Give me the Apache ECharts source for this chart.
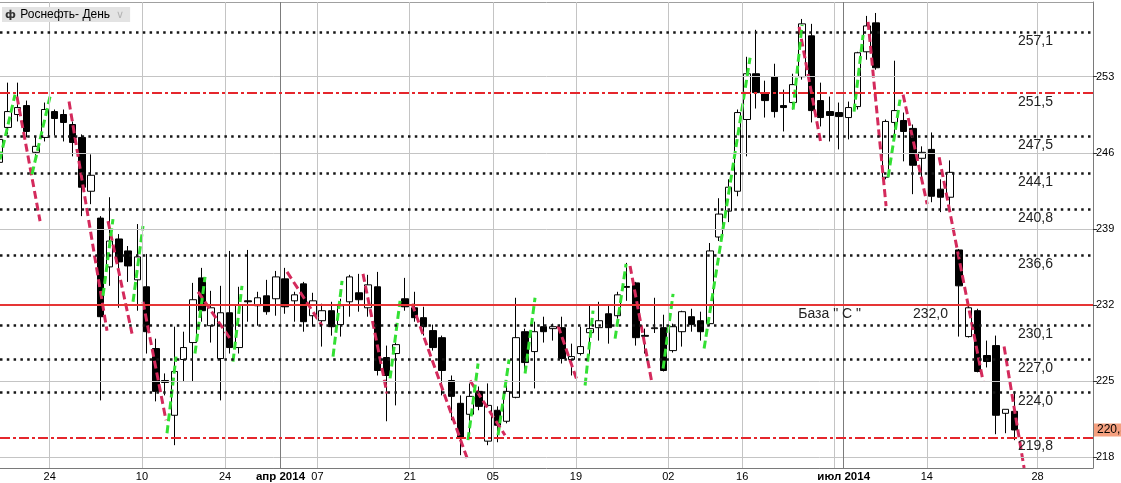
<!DOCTYPE html>
<html><head><meta charset="utf-8">
<script src="https://cdn.jsdelivr.net/npm/echarts@6/dist/echarts.min.js"></script>
<style>html,body{margin:0;padding:0;background:#fff}#c{width:1121px;height:483px}</style>
</head><body><div id="c"></div>
<script>
// trading days (first visible one partly cut at the left edge)
const dates = [
'2014-02-14',
'2014-02-17','2014-02-18','2014-02-19','2014-02-20','2014-02-21',
'2014-02-24','2014-02-25','2014-02-26','2014-02-27','2014-02-28',
'2014-03-03','2014-03-04','2014-03-05','2014-03-06','2014-03-07',
'2014-03-11','2014-03-12','2014-03-13','2014-03-14',
'2014-03-17','2014-03-18','2014-03-19','2014-03-20','2014-03-21',
'2014-03-24','2014-03-25','2014-03-26','2014-03-27','2014-03-28',
'2014-03-31','2014-04-01','2014-04-02','2014-04-03','2014-04-04',
'2014-04-07','2014-04-08','2014-04-09','2014-04-10','2014-04-11',
'2014-04-14','2014-04-15','2014-04-16','2014-04-17','2014-04-18',
'2014-04-21','2014-04-22','2014-04-23','2014-04-24','2014-04-25',
'2014-04-28','2014-04-29','2014-04-30','2014-05-02',
'2014-05-05','2014-05-06','2014-05-07','2014-05-08',
'2014-05-12','2014-05-13','2014-05-14','2014-05-15','2014-05-16',
'2014-05-19','2014-05-20','2014-05-21','2014-05-22','2014-05-23',
'2014-05-26','2014-05-27','2014-05-28','2014-05-29','2014-05-30',
'2014-06-02','2014-06-03','2014-06-04','2014-06-05','2014-06-06',
'2014-06-09','2014-06-10','2014-06-11',
'2014-06-16','2014-06-17','2014-06-18','2014-06-19','2014-06-20',
'2014-06-23','2014-06-24','2014-06-25','2014-06-26','2014-06-27',
'2014-06-30','2014-07-01','2014-07-02','2014-07-03','2014-07-04',
'2014-07-07','2014-07-08','2014-07-09','2014-07-10','2014-07-11',
'2014-07-14','2014-07-15','2014-07-16','2014-07-17','2014-07-18',
'2014-07-21','2014-07-22','2014-07-23','2014-07-24','2014-07-25'
];
const futureSlots = ['2014-07-26','2014-07-27','2014-07-28','2014-07-29','2014-07-30','2014-07-31','2014-08-01','2014-08-02'];

const opens = [245.12,
248.33,249.52,250.34,246.04,247.41,
249.79,249.52,248.60,247.41,242.46,
239.99,235.50,238.07,236.97,234.31,
233.67,227.99,225.05,221.85,
226.98,228.54,234.49,230.09,227.07,
231.28,228.08,232.38,231.93,232.84,
232.57,234.40,232.38,233.94,231.01,
230.55,231.47,230.19,232.29,233.12,
231.74,233.67,227.16,227.53,232.57,
231.74,230.83,229.64,228.99,225.05,
222.95,221.94,224.05,219.47,
222.31,221.30,223.50,229.54,
227.71,230.00,229.82,229.91,226.98,
227.53,229.45,229.91,231.19,231.01,
233.70,234.03,229.20,229.82,229.91,
227.80,229.54,230.92,230.55,230.28,
238.25,240.63,242.46,
249.06,253.27,251.44,253.00,250.34,
250.62,253.00,256.76,250.80,249.79,
249.70,249.24,250.25,255.29,257.95,
243.75,248.79,248.97,248.24,245.49,
246.31,242.65,241.91,237.06,229.09,
231.47,227.35,228.26,222.03,222.21];
const closes = [247.23,
249.79,250.16,247.96,246.59,249.98,
249.15,248.79,246.95,242.83,243.93,
230.92,237.88,235.96,235.59,236.42,
229.54,224.05,224.87,225.88,
228.08,232.48,231.47,231.74,231.28,
228.08,232.02,232.29,232.66,231.38,
234.58,231.83,232.93,230.46,232.38,
231.47,230.00,231.93,234.58,232.48,
233.85,225.97,225.51,228.35,231.83,
230.83,230.00,228.08,225.97,223.59,
219.83,223.59,222.67,222.76,
220.93,224.05,228.99,226.70,
229.54,229.54,230.00,227.07,227.25,
228.17,229.82,230.55,229.91,232.93,
233.62,228.99,229.12,229.90,225.97,
230.00,231.38,230.19,229.54,236.97,
240.36,242.83,249.70,
253.27,251.53,250.80,249.79,250.16,
252.27,257.86,249.88,249.24,249.43,
249.33,250.16,255.20,257.67,253.82,
248.88,249.88,247.96,244.85,246.04,
242.00,241.91,244.20,233.76,231.74,
225.88,226.80,221.85,222.40,220.50];
const lows = [244.94,
247.69,248.88,247.41,245.12,247.04,
247.59,247.04,245.67,240.17,241.27,
223.22,233.76,231.74,234.12,231.47,
227.53,223.13,223.68,219.10,
224.96,224.96,230.46,228.54,223.22,
227.53,227.53,230.46,230.09,231.10,
231.01,231.19,230.46,229.54,230.00,
228.17,229.18,229.09,230.92,231.38,
230.92,225.51,221.30,222.76,231.47,
230.46,229.18,227.80,223.68,221.39,
218.18,219.74,222.31,219.10,
219.37,221.11,223.41,225.88,
224.32,228.54,228.72,226.61,225.51,
227.35,227.35,228.72,228.44,230.74,
232.38,228.26,227.53,229.42,225.88,
227.62,228.17,229.54,228.72,230.09,
237.88,239.62,242.00,
245.67,250.07,249.24,249.24,247.96,
249.98,252.73,248.79,248.42,247.04,
246.31,247.23,249.98,254.56,253.64,
243.56,247.69,245.21,242.19,243.56,
241.45,240.54,240.54,229.09,229.00,
225.80,226.25,220.11,220.20,219.56];
const highs = [247.41,
252.45,252.45,250.80,247.50,250.62,
249.98,249.98,248.88,247.69,245.85,
240.17,241.91,238.52,237.42,239.44,
236.69,228.90,225.70,230.00,
229.54,234.03,235.41,233.30,233.76,
236.97,233.67,237.06,233.21,234.31,
235.13,235.41,233.21,234.12,233.12,
232.11,232.29,232.57,234.77,234.86,
234.77,235.04,228.26,228.54,234.49,
233.21,231.83,230.19,229.18,225.51,
223.68,224.78,224.50,224.78,
222.67,224.60,232.66,229.82,
230.46,230.92,230.28,230.92,228.44,
230.00,231.93,232.29,231.93,233.21,
235.87,234.12,229.82,232.66,231.10,
230.28,231.47,231.65,231.38,237.70,
241.82,243.56,249.98,
254.83,257.31,252.63,254.19,251.81,
253.27,258.31,257.86,252.45,251.17,
250.62,250.71,255.29,258.59,258.86,
249.06,254.47,249.70,248.60,246.59,
247.87,243.56,245.30,237.15,232.11,
231.65,228.72,229.18,222.40,224.05];

const tickDates = ['2014-02-24','2014-03-11','2014-03-24','2014-04-01','2014-04-07','2014-04-21','2014-05-05','2014-05-19','2014-06-02','2014-06-16','2014-07-01','2014-07-14','2014-07-28'];
const tickTexts = ['24','10','24','апр 2014','07','21','05','19','02','16','июл 2014','14','28'];
const gridDates = ['2014-02-24','2014-03-11','2014-03-24','2014-04-07','2014-04-21','2014-05-05','2014-05-19','2014-06-02','2014-06-16','2014-06-30','2014-07-14','2014-07-28'];
const monthDates = ['2014-04-01','2014-07-01'];
const yTicks = [218,225,232,239,246,253];

const dottedLevels = [257.1,247.5,244.1,240.8,236.6,230.1,227.0,224.0];
const dashDotLevels = [251.5,219.8];
const baseLevel = 232.0;
const baseName = 'База " С "';

// trend segments: [[slot, price],[slot, price]] (slot 0 = 2014-02-17)
const redSegments = [
[[0.96,251.17],[3.46,239.71]],
[[6.6,250.71],[10.71,229.63]],
[[10.82,239.71],[13.42,229.36]],
[[14.61,232.29],[17.1,221.39]],
[[20.57,233.21],[24.04,228.9]],
[[30.21,235.04],[34.0,230.09]],
[[38.44,234.86],[41.04,223.86]],
[[43.75,232.11],[49.71,217.91]],
[[50.03,225.05],[53.82,220.01]],
[[59.56,230.09],[61.62,225.05]],
[[67.36,235.59],[69.74,224.78]],
[[85.67,257.58],[88.05,246.77]],
[[93.14,258.04],[95.09,241.09]],
[[96.93,251.35],[99.54,241.27]],
[[100.84,245.58],[105.6,224.96]],
[[107.87,228.17],[110.04,216.99]]
];
const greenSegments = [
[[-0.88,245.39],[0.75,251.35]],
[[2.59,244.02],[4.54,251.17]],
[[10.28,232.84],[11.36,239.9]],
[[13.53,232.29],[14.61,239.26]],
[[17.21,220.2],[18.19,227.25]],
[[20.24,227.53],[21.33,234.58]],
[[24.36,226.79],[25.33,233.76]],
[[35.19,227.25],[36.17,234.22]],
[[41.37,225.24],[42.45,232.38]],
[[49.81,219.56],[50.9,226.61]],
[[53.06,220.01],[54.26,226.98]],
[[55.99,225.69],[57.07,232.66]],
[[62.49,224.59],[63.35,231.47]],
[[65.74,228.9],[66.93,235.77]],
[[70.94,226.15],[72.02,233.02]],
[[75.38,227.99],[80.36,254.74]],
[[85.02,249.98],[85.99,257.76]],
[[91.62,249.79],[92.6,256.85]],
[[95.31,243.75],[96.6,250.89]]
];

// slot index of a date on the time line (slot 0 = 2014-02-17)
const allSlots = dates.concat(futureSlots);
const slotOf = d => allSlots.indexOf(d) - 1;
const FIRST_SLOT = -0.8774, LAST_SLOT = 117.5;

const tickMap = {};
const tickValues = tickDates.map((d, i) => { const v = slotOf(d) - 0.5; tickMap[v.toFixed(1)] = tickTexts[i]; return v; });
const fmt = v => v.toFixed(1).replace('.', ',');
const candleData = opens.map((o, i) => [slotOf(dates[i]), o, closes[i], lows[i], highs[i]]);
const lastClose = closes[closes.length - 1];

const FONT = 'Liberation Sans';
const gridColor = '#c4c4c4';
const dotStyle = { color: '#161616', width: 2.5, type: [2.5, 4.3], cap: 'butt' };
const lvlLabel = (text, dx) => ({ show: true, position: 'insideEndBottom', distance: [dx, 2], formatter: text, color: '#222', fontSize: 14, fontFamily: FONT });
const redLine = { color: '#e5262c', width: 2, type: [10, 3, 3, 3] };
const baseLine = { color: '#e63535', width: 2, type: 'solid' };

const gridData = [];
yTicks.forEach(v => gridData.push({ yAxis: v }));
gridDates.forEach(d => gridData.push({ xAxis: slotOf(d) - 0.5 }));
monthDates.forEach(d => gridData.push({ xAxis: slotOf(d) - 0.5, lineStyle: { color: '#7c7c7c', width: 1, type: 'solid' } }));

const levelData = [];
dottedLevels.forEach(v => levelData.push({ yAxis: v, lineStyle: dotStyle, label: lvlLabel(fmt(v), 40) }));
dashDotLevels.forEach(v => levelData.push({ yAxis: v, lineStyle: redLine, label: lvlLabel(fmt(v), 40) }));
levelData.push({ yAxis: baseLevel, lineStyle: baseLine, label: lvlLabel(fmt(baseLevel), 145) });
levelData.push({ yAxis: baseLevel, lineStyle: baseLine, label: lvlLabel(baseName, 232) });
levelData.push({ yAxis: lastClose, lineStyle: { color: 'rgba(0,0,0,0)', width: 1, opacity: 1 },
  label: { show: true, position: 'end', distance: 1, formatter: fmt(lastClose), backgroundColor: '#f5a07f', padding: [1, 3, 0, 3], color: '#000', opacity: 1, fontSize: 12, fontFamily: FONT } });

const chart = echarts.init(document.getElementById('c'), null, { renderer: 'canvas' });
chart.setOption({
  animation: false,
  backgroundColor: '#fff',
  title: {
    text: '{ic|ф} Роснефть- День{ch|∨}', left: 2, top: 7, padding: [1, 6, 0, 3], backgroundColor: '#e3e3e3',
    textStyle: { fontSize: 12, fontWeight: 'normal', color: '#000', fontFamily: FONT, lineHeight: 14,
      rich: { ic: { fontSize: 11, fontWeight: 'bold', color: '#333', fontFamily: 'DejaVu Sans', lineHeight: 14, padding: [0, 1, 0, 0] },
              ch: { fontSize: 11, color: '#b4b4b4', fontFamily: 'DejaVu Sans', lineHeight: 14, padding: [0, 0, 0, 6] } } }
  },
  grid: { left: 0, right: 28, top: 2, bottom: 13 },
  xAxis: [
    { type: 'value', min: FIRST_SLOT, max: LAST_SLOT, position: 'bottom',
      axisLine: { show: true, onZero: false, lineStyle: { color: '#7a7a7a', width: 1 } },
      axisTick: { show: false },
      axisLabel: { customValues: tickValues,
        formatter: v => { const t = tickMap[Number(v).toFixed(1)] || ''; return t.indexOf('2014') >= 0 ? '{b|' + t + '}' : t; },
        margin: 3, fontSize: 11, color: '#000', fontFamily: FONT,
        rich: { b: { fontWeight: 'bold', fontSize: 11.5, fontFamily: FONT, color: '#000' } } },
      splitLine: { show: false } },
    { type: 'value', min: FIRST_SLOT, max: LAST_SLOT, position: 'top',
      axisLine: { show: true, onZero: false, lineStyle: { color: '#a0a0a0', width: 1 } },
      axisTick: { show: false }, axisLabel: { show: false }, splitLine: { show: false } }
  ],
  yAxis: { type: 'value', position: 'right', min: 217, max: 259.87,
    axisLine: { show: true, onZero: false, lineStyle: { color: '#7a7a7a' } },
    axisTick: { show: true, length: 4, customValues: yTicks, lineStyle: { color: '#333' } },
    axisLabel: { customValues: yTicks, margin: 3, fontSize: 11, color: '#000', fontFamily: FONT },
    splitLine: { show: false } },
  series: [
    { name: 'grid', type: 'line', data: [], xAxisIndex: 0, yAxisIndex: 0, z: 1, silent: true,
      markLine: { silent: true, symbol: 'none', animation: false, label: { show: false },
        lineStyle: { color: gridColor, width: 1, type: 'solid' }, data: gridData } },
    { name: 'Роснефть', type: 'candlestick', xAxisIndex: 0, yAxisIndex: 0, data: candleData, barWidth: 7, z: 2,
      encode: { x: 0, y: [1, 2, 3, 4] },
      itemStyle: { color: '#ffffff', color0: '#000000', borderColor: '#000000', borderColor0: '#000000', borderWidth: 1 } },
    { name: 'levels', type: 'line', data: [], xAxisIndex: 0, yAxisIndex: 0, z: 3, silent: true,
      markLine: { silent: true, symbol: 'none', animation: false, data: levelData } },
    { name: 'down', type: 'lines', coordinateSystem: 'cartesian2d', xAxisIndex: 0, yAxisIndex: 0, z: 4, silent: true,
      data: redSegments.map(s => ({ coords: s })),
      lineStyle: { color: '#d42a5c', width: 3, type: [8, 4], opacity: 1, curveness: 0 } },
    { name: 'up', type: 'lines', coordinateSystem: 'cartesian2d', xAxisIndex: 0, yAxisIndex: 0, z: 4, silent: true,
      data: greenSegments.map(s => ({ coords: s })),
      lineStyle: { color: '#33e033', width: 3, type: [8, 4], opacity: 1, curveness: 0 } }
  ]
});
</script>
</body></html>
